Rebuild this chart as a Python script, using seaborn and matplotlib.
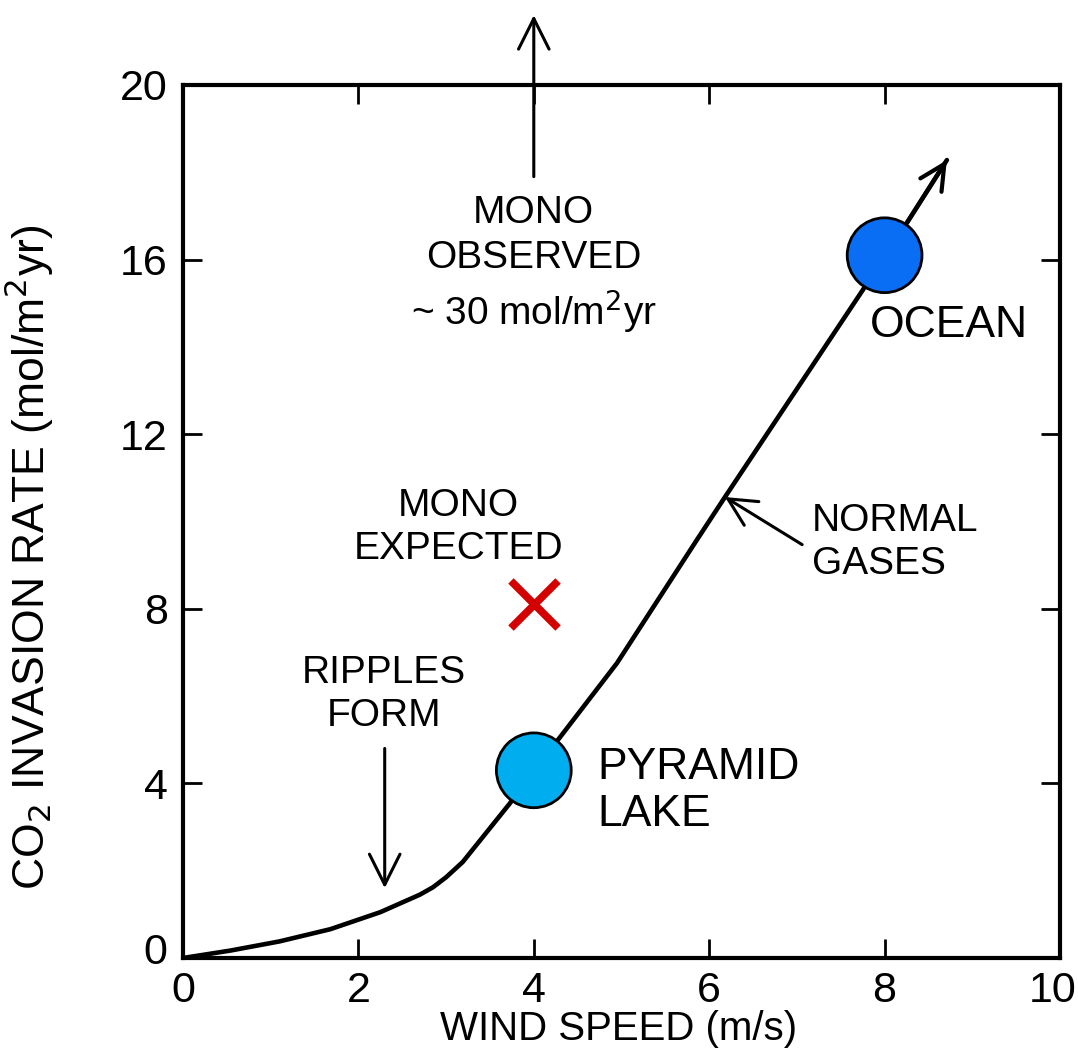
import matplotlib
matplotlib.use("Agg")
import matplotlib.pyplot as plt
import matplotlib.transforms as mtransforms
import seaborn as sns
import pandas as pd

# ---------------- data ----------------
wind_speed = [0, 0.54, 1.1, 1.68, 2.25, 2.70, 2.85, 3.0, 3.19, 3.73, 4.0, 4.30, 4.95, 5.86, 6.16, 7.75, 8.0, 8.26, 8.71]
invasion_rate = [0, 0.17, 0.38, 0.66, 1.05, 1.45, 1.62, 1.85, 2.2, 3.55, 4.3, 5.06, 6.76, 9.58, 10.5, 15.3, 16.1, 16.86, 18.28]

site_names = ["PYRAMID LAKE", "OCEAN"]
site_wind = [4.0, 8.0]
site_rate = [4.3, 16.1]
site_colors = ["#00AEEF", "#0A6EF5"]

mono_expected_wind = [4.0]
mono_expected_rate = [8.1]

x_ticks = [0, 2, 4, 6, 8, 10]
y_ticks = [0, 4, 8, 12, 16, 20]

# ---------------- style ----------------
sns.set_theme(style="white")
plt.rcParams['font.family'] = ['Liberation Sans', 'DejaVu Sans']
plt.rcParams['text.color'] = 'black'
plt.rcParams['axes.labelcolor'] = 'black'
plt.rcParams['xtick.color'] = 'black'
plt.rcParams['ytick.color'] = 'black'

fig = plt.figure(figsize=(10.78, 10.55), dpi=100)
ax = fig.add_axes([183/1078, 1-958/1055, (1060-183)/1078, (958-85)/1055])

curve = pd.DataFrame({"wind": wind_speed, "rate": invasion_rate})
sns.lineplot(data=curve, x="wind", y="rate", sort=False, color="black", linewidth=3.3, ax=ax)
ax.lines[-1].set_solid_joinstyle("round")
# arrow head at the end of the curve
ax.annotate("", xy=(wind_speed[-1], invasion_rate[-1]), xytext=(wind_speed[-2], invasion_rate[-2]),
            arrowprops=dict(arrowstyle="->", color="black", lw=3, mutation_scale=45, shrinkA=0, shrinkB=0))

sites = pd.DataFrame({"wind": site_wind, "rate": site_rate, "site": site_names})
sns.scatterplot(data=sites, x="wind", y="rate", hue="site", palette=site_colors, s=2900,
                edgecolor="black", linewidth=2, legend=False, zorder=5, ax=ax)

sns.scatterplot(x=mono_expected_wind, y=mono_expected_rate, marker="x", s=1150, color="#D40000",
                linewidth=5.5, zorder=5, ax=ax)

ax.set_xlim(0, 10)
ax.set_ylim(0, 20)
ax.set_xticks(x_ticks)
ax.set_yticks(y_ticks)
ax.tick_params(direction="in", length=14, width=2, labelsize=31, pad=11,
               top=True, right=True, bottom=True, left=True, colors="black")
ax.tick_params(axis="x", pad=9)
for s in ax.spines.values():
    s.set_linewidth(3)
    s.set_color("black")

# nudge end labels like the reference
xl = ax.get_xticklabels()
xl[-1].set_transform(xl[-1].get_transform() + mtransforms.ScaledTranslation(-7/100, 0, fig.dpi_scale_trans))
yl = ax.get_yticklabels()
yl[0].set_transform(yl[0].get_transform() + mtransforms.ScaledTranslation(0, 10/100, fig.dpi_scale_trans))

ax.set_xlabel("WIND SPEED (m/s)", fontsize=29)
ax.xaxis.set_label_coords(0.497, -0.060)
ax.set_ylabel("CO$_2$ INVASION RATE (mol/m$^2$yr)", fontsize=32)
ax.yaxis.set_label_coords(-0.145, 0.459)

# ---------------- annotations ----------------
tfs = 28
ax.text(4.0, 15.88, "MONO\nOBSERVED\n~ 30 mol/m$^2$yr", ha="center", va="center", fontsize=tfs, linespacing=1.3)
ax.annotate("", xy=(4.0, 21.6), xytext=(4.0, 17.9), annotation_clip=False,
            arrowprops=dict(arrowstyle="->", color="black", lw=2.2, mutation_scale=55, shrinkA=0, shrinkB=0))

ax.text(3.14, 9.87, "MONO\nEXPECTED", ha="center", va="center", fontsize=tfs, linespacing=1.25)

ax.text(2.29, 6.03, "RIPPLES\nFORM", ha="center", va="center", fontsize=tfs, linespacing=1.25)
ax.annotate("", xy=(2.3, 1.6), xytext=(2.3, 4.8),
            arrowprops=dict(arrowstyle="->", color="black", lw=2.2, mutation_scale=55, shrinkA=0, shrinkB=0))

ax.text(4.73, 3.83, "PYRAMID\nLAKE", ha="left", va="center", fontsize=32, linespacing=1.2)
ax.text(7.83, 14.5, "OCEAN", ha="left", va="center", fontsize=32)

ax.text(7.17, 9.53, "NORMAL\nGASES", ha="left", va="center", fontsize=tfs, linespacing=1.25)
ax.annotate("", xy=(6.18, 10.56), xytext=(7.06, 9.47),
            arrowprops=dict(arrowstyle="->", color="black", lw=2.2, mutation_scale=50, shrinkA=0, shrinkB=0))

fig.savefig("out.png", dpi=100)
